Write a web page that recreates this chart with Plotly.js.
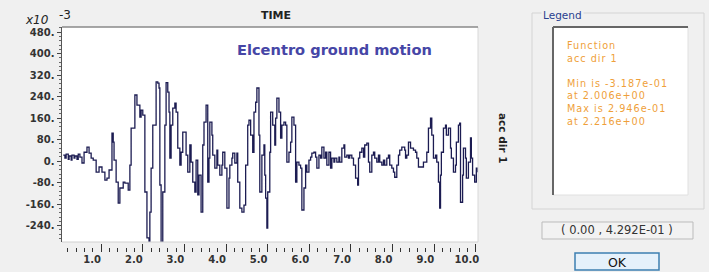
<!DOCTYPE html>
<html><head><meta charset="utf-8">
<script src="https://cdn.plot.ly/plotly-3.0.1.min.js"></script>
<style>html,body{margin:0;padding:0;background:#f0f0f0;}#chart{width:709px;height:272px;}</style>
</head><body><div id="chart"></div>
<script>
// time (s)
var timeS = [0.09,0.13,0.16,0.21,0.23,0.28,0.30,0.35,0.37,0.42,0.45,0.49,0.54,0.59,0.66,0.71,0.76,0.81,0.88,0.95,
1.02,1.09,1.14,1.19,1.26,1.29,1.31,1.36,1.41,1.45,1.53,1.57,1.65,1.69,1.72,1.81,1.86,1.93,1.96,2.00,
2.05,2.10,2.15,2.17,2.20,2.24,2.32,2.36,2.39,2.41,2.44,2.48,2.53,2.56,2.60,2.63,2.65,2.68,2.72,2.77,
2.80,2.84,2.89,2.92,2.96,3.01,3.04,3.08,3.13,3.16,3.20,3.25,3.28,3.32,3.35,3.40,3.44,3.47,3.52,3.56,
3.59,3.61,3.66,3.68,3.73,3.78,3.80,3.85,3.90,3.92,3.97,4.02,4.07,4.09,4.14,4.16,4.21,4.26,4.28,4.33,
4.38,4.43,4.47,4.52,4.55,4.59,4.64,4.67,4.71,4.74,4.79,4.81,4.86,4.91,4.93,4.95,4.98,5.00,5.05,5.07,
5.12,5.17,5.19,5.22,5.27,5.31,5.34,5.39,5.43,5.46,5.51,5.55,5.58,5.63,5.67,5.70,5.75,5.79,5.82,5.87,
5.91,5.94,5.99,6.03,6.06,6.11,6.15,6.18,6.23,6.27,6.30,6.35,6.39,6.42,6.47,6.51,6.54,6.59,6.61,6.66,
6.71,6.73,6.78,6.83,6.85,6.90,6.94,6.97,7.02,7.06,7.11,7.16,7.18,7.21,7.26,7.30,7.33,7.38,7.42,7.45,
7.50,7.54,7.57,7.62,7.66,7.69,7.74,7.78,7.81,7.86,7.90,7.93,7.98,8.02,8.05,8.10,8.14,8.17,8.22,8.29,
8.31,8.34,8.38,8.43,8.46,8.50,8.55,8.58,8.62,8.67,8.70,8.74,8.79,8.82,8.86,8.91,8.94,8.98,9.03,9.06,
9.10,9.13,9.15,9.17,9.22,9.27,9.29,9.34,9.39,9.41,9.46,9.51,9.53,9.58,9.61,9.63,9.68,9.70,9.75,9.77,
9.82,9.87,9.89,9.92,9.97,10.01,10.04];
// acceleration (x10^-3)
var accDir1 = [22,11,26,7,19,4,22,11,19,7,26,15,-7,33,52,30,11,4,-41,-22,
-41,-71,-63,-33,104,71,4,-78,-156,-100,-78,-82,-108,-15,123,246,208,164,190,171,
-115,-286,-319,-190,-26,134,295,290,272,-89,-305,-115,134,292,257,182,11,134,197,216,
182,48,-15,33,108,108,22,-41,60,-4,-78,-115,4,-126,-52,-190,60,145,208,-78,
11,145,97,22,-26,41,-15,-52,-15,33,-26,-175,-63,-15,11,30,-7,30,-78,-175,
-190,-164,-15,134,152,97,33,182,219,272,97,-115,22,60,-52,-138,-249,-115,33,182,
134,60,160,234,182,86,134,145,134,-4,33,71,164,134,-78,-4,-15,-26,-182,-100,
-15,-41,4,15,30,33,15,-26,22,11,52,11,33,-15,33,-26,11,-4,11,-4,
15,-4,48,60,15,22,11,22,11,-15,-63,-89,11,33,48,15,60,67,-4,-41,
22,33,11,-4,22,-4,-15,4,-15,11,22,-15,-26,-41,-60,-15,22,41,52,41,
11,22,71,48,48,41,33,11,-22,-22,-22,-4,-4,33,123,160,97,11,22,-4,
-78,-175,-52,33,123,134,97,123,48,11,-41,-15,71,134,141,-153,-52,48,11,-63,
-4,86,11,-52,-78,-26,-41];
var yTickVals = [-240,-160,-80,0,80,160,240,320,400,480];
var yTickText = ["-240.","-160.","-80.","0.","80.","160.","240.","320.","400.","480."];
var xTickVals = [1,2,3,4,5,6,7,8,9,10];
var xTickText = ["1.0","2.0","3.0","4.0","5.0","6.0","7.0","8.0","9.0","10.0"];
var legendLines = ["Function","acc dir 1","","Min is -3.187e-01","at 2.006e+00","Max is 2.946e-01","at 2.216e+00"];

// pixel -> paper helpers (paper spans x 62..478, y 27..257)
var L=62, R=478, T=27, B=257;
function px(x){return (x-L)/(R-L);}
function py(y){return (B-y)/(B-T);}
var F = "DejaVu Sans";

var ann = [
  {text:"<i>x10</i>", x:px(23), y:py(20), xanchor:"left", font:{family:F,size:12,color:"#222"}},
  {text:"-3", x:px(57), y:py(15), xanchor:"left", font:{family:F,size:12,color:"#222"}},
  {text:"<b>TIME</b>", x:px(276), y:py(15), font:{family:F,size:11,color:"#222"}},
  {text:"<b>Elcentro ground motion</b>", x:px(334), y:py(49), font:{family:F,size:14.6,color:"#4646a6"}},
  {text:"<b>acc dir 1</b>", x:px(503), y:py(138), textangle:90, font:{family:F,size:10.5,color:"#222"}},
  {text:"Legend", x:px(562), y:py(15), font:{family:F,size:10.5,color:"#2a3f8f"}, bgcolor:"#f0f0f0"},
  {text:"( 0.00 , 4.292E-01 )", x:px(617), y:py(230), font:{family:F,size:11.5,color:"#333"}},
  {text:"OK", x:px(617), y:py(262), font:{family:F,size:12.5,color:"#111"}},
  {text:legendLines.join("<br>"), x:px(565), y:py(83), xanchor:"left", align:"left", font:{family:F,size:9.7,color:"#ef9f3a"}}
];
ann.forEach(function(a){ a.xref="paper"; a.yref="paper"; a.showarrow=false; if(!a.xanchor) a.xanchor="center"; a.yanchor="middle"; });

function rect(x0,y0,x1,y1,lc,fc,lw){return {type:"rect",xref:"paper",yref:"paper",x0:px(x0),x1:px(x1),y0:py(y0),y1:py(y1),line:{color:lc,width:lw||1},fillcolor:fc||"rgba(0,0,0,0)",layer:"below"};}
function line(x0,y0,x1,y1,lc,lw){return {type:"line",xref:"paper",yref:"paper",x0:px(x0),x1:px(x1),y0:py(y0),y1:py(y1),line:{color:lc,width:lw||1}};}

var shapes = [
  rect(532,13,704,209,"#d4d4d4"),
  rect(553,27,688,195,"#e0e0e0","#ffffff"),
  line(553,27,688,27,"#666",2),
  line(553,27,553,195,"#666",2),
  rect(542,222,693,239,"#bbbbbb","#f2f2f2"),
  rect(575,253,659,270,"#3c7fb1","#e5f1fb",1.5),
  line(62,242,478,242,"#d0d0d0"),
  line(478,27,478,242,"#d8d8d8"),
  line(62,27,478,27,"#8a8a8a",1.5)
];

var trace = {x:timeS, y:accDir1, type:"scatter", mode:"lines", line:{color:"#1c1c52", width:1.3, shape:"hv"}, hoverinfo:"skip"};

var layout = {
  width:709, height:272,
  margin:{l:L, r:709-R, t:T, b:272-B, pad:0},
  paper_bgcolor:"#f0f0f0", plot_bgcolor:"#ffffff",
  showlegend:false,
  xaxis:{range:[0.06,10.05], anchor:"free", position:py(252), tickmode:"array", tickvals:xTickVals, ticktext:xTickText,
    ticks:"inside", ticklen:8, tickwidth:1, tickcolor:"#333", showline:false, showgrid:false, zeroline:false,
    ticklabelshift:-9, tickfont:{family:F,size:10,weight:"bold",color:"#333"},
    minor:{dtick:0.2, ticks:"inside", ticklen:4, tickcolor:"#333", showgrid:false}},
  yaxis:{domain:[py(242),1], range:[-301,499], tickmode:"array", tickvals:yTickVals, ticktext:yTickText,
    ticks:"outside", ticklen:4, tickcolor:"#444", showline:true, linecolor:"#555", linewidth:1.5,
    showgrid:false, zeroline:false, tickfont:{family:F,size:10,weight:"bold",color:"#333"},
    minor:{dtick:16, ticks:"outside", ticklen:2, tickcolor:"#666", showgrid:false}},
  annotations:ann, shapes:shapes
};
Plotly.newPlot("chart",[trace],layout,{staticPlot:true,displayModeBar:false}).then(function(gd){
  // widen the legend panel text to match the reference's wide lettering
  gd.querySelectorAll(".annotation-text").forEach(function(t){
    if(t.textContent.indexOf("Function")===0){ t.style.letterSpacing="1px"; }
  });
});
</script></body></html>
